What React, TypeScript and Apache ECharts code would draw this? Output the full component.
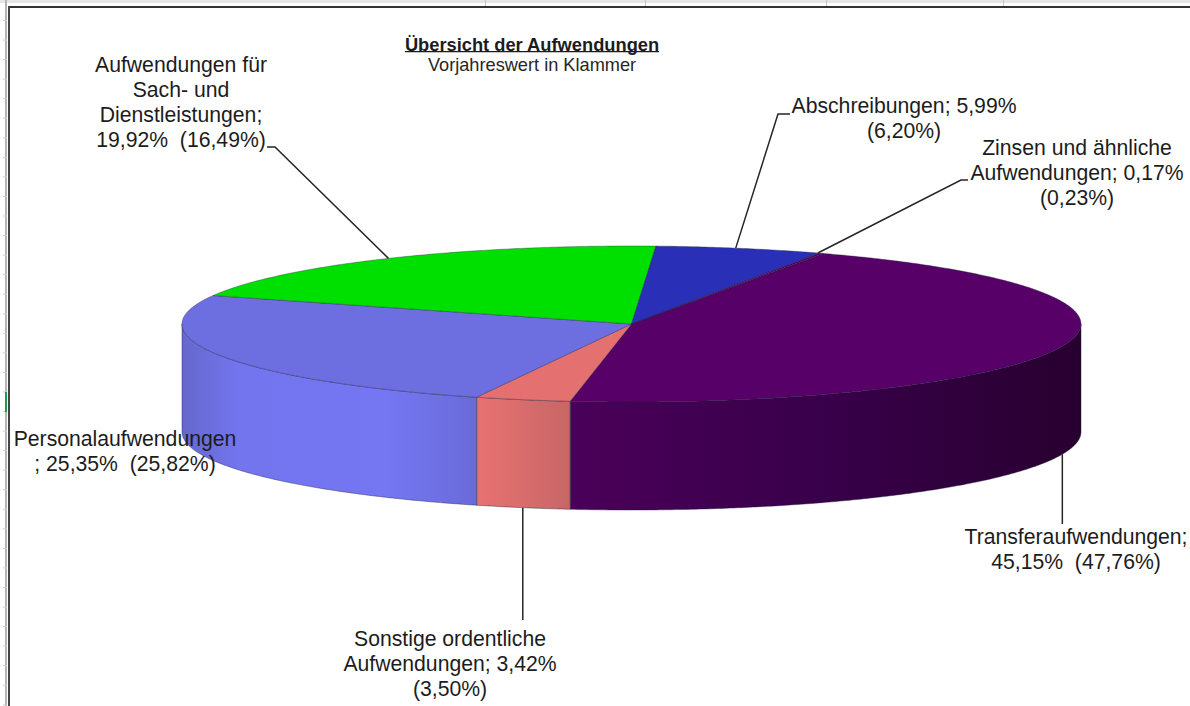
import React, { useEffect, useRef } from "react";
import * as echarts from "echarts";

const titleText = "Übersicht der Aufwendungen";
const subtitleText = "Vorjahreswert in Klammer";

// Clockwise from the start angle, in the reference's drawing order
const categories = [
  "Transferaufwendungen",
  "Sonstige ordentliche Aufwendungen",
  "Personalaufwendungen",
  "Aufwendungen für Sach- und Dienstleistungen",
  "Abschreibungen",
  "Zinsen und ähnliche Aufwendungen",
];
const currentShares = [45.15, 3.42, 25.35, 19.92, 5.99, 0.17];
const priorShares = [47.76, 3.5, 25.82, 16.49, 6.2, 0.23];
const labelTemplates = [
  "Transferaufwendungen;\n{v}  ({p})",
  "Sonstige ordentliche\nAufwendungen; {v}\n({p})",
  "Personalaufwendungen\n; {v}  ({p})",
  "Aufwendungen für\nSach- und\nDienstleistungen;\n{v}  ({p})",
  "Abschreibungen; {v}\n({p})",
  "Zinsen und ähnliche\nAufwendungen; {v}\n({p})",
];

// Styles and layout
const topColors = ["#560068", "#e57070", "#6d6ee0", "#00e000", "#2a2fb7", "#560068"];
const sideStops: [number, string][][] = [
  [[0, "#4a0059"], [0.5, "#38004a"], [1, "#28002f"]],
  [[0, "#e87272"], [0.5, "#d86c6c"], [1, "#c76666"]],
  [[0, "#6668cd"], [0.2, "#7375ef"], [0.7, "#7476f2"], [1, "#6a6bd8"]],
  [[0, "#00e000"], [1, "#00e000"]],
  [[0, "#2a2fb7"], [1, "#2a2fb7"]],
  [[0, "#560068"], [1, "#560068"]],
];
const labelCenters = [
  [1076, 549],
  [450, 663],
  [125, 451],
  [181, 101.5],
  [904, 117.5],
  [1077, 172],
];
// Leader line points after the slice anchor; null x = keep the anchor's x
const leaderRoutes: ([number | null, number][] | null)[] = [
  [[null, 524]],
  [[null, 620]],
  null,
  [[275, 147], [267, 147]],
  [[778, 114], [790, 114]],
  [[961, 180], [968, 180]],
];
const anchorShiftDeg = [0, 0, 0, 0, 0.5, 0.5];
const gridColumns = [485, 645, 826, 1003];
const gutterTicks = Array.from({ length: 36 }, (_, k) => 20 + k * 19.55);
const CX = 631.5;
const CY = 324;
const RX = 449.5;
const RY = 78;
const DEPTH = 108;
const START_ANGLE = 64.7;
const EDGE = "rgba(30,30,60,0.6)";

const total = currentShares.reduce((a, b) => a + b, 0);
const fmt = (n: number) => n.toFixed(2).replace(".", ",") + "%";

const sliceAngles = (index: number) => {
  const before = currentShares.slice(0, index).reduce((a, b) => a + b, 0);
  const from = START_ANGLE - (before / total) * 360;
  const to = from - (currentShares[index] / total) * 360;
  return [from, to];
};
const pointAt = (deg: number, drop = 0): [number, number] => {
  const r = (deg * Math.PI) / 180;
  return [CX + RX * Math.cos(r), CY - RY * Math.sin(r) + drop];
};
const arcPoints = (from: number, to: number, drop = 0) => {
  const n = Math.max(2, Math.ceil(Math.abs(from - to) * 2));
  const pts: [number, number][] = [];
  for (let i = 0; i <= n; i++) pts.push(pointAt(from + ((to - from) * i) / n, drop));
  return pts;
};

const renderSlice = (params: any) => {
  const i = params.dataIndex;
  const [from, to] = sliceAngles(i);
  const children: any[] = [
    {
      type: "polygon",
      shape: { points: [[CX, CY], ...arcPoints(from, to)] },
      style: { fill: topColors[i], stroke: EDGE, lineWidth: 0.6 },
    },
  ];
  const sideFrom = Math.min(from, 0);
  const sideTo = Math.max(to, -180);
  if (sideFrom > sideTo) {
    children.unshift({
      type: "polygon",
      shape: {
        points: [
          ...arcPoints(sideFrom, sideTo),
          ...arcPoints(sideTo, sideFrom, DEPTH),
        ],
      },
      style: {
        fill: {
          type: "linear",
          x: 0,
          y: 0,
          x2: 1,
          y2: 0,
          colorStops: sideStops[i].map(([offset, color]) => ({ offset, color })),
        },
        stroke: EDGE,
        lineWidth: 0.7,
      },
    });
  }
  return { type: "group", children };
};

const renderLabel = (params: any, api: any) => {
  const i = params.dataIndex;
  const [from, to] = sliceAngles(i);
  const mid = (from + to) / 2 + anchorShiftDeg[i];
  const children: any[] = [];
  const route = leaderRoutes[i];
  if (route) {
    const anchor = pointAt(mid, Math.sin((mid * Math.PI) / 180) < 0 ? DEPTH : 0);
    children.push({
      type: "polyline",
      shape: {
        points: [anchor, ...route.map(([x, y]) => [x === null ? anchor[0] : x, y])],
      },
      style: { fill: "none", stroke: "#262626", lineWidth: 1.5 },
    });
  }
  const lines = labelTemplates[i]
    .replace("{v}", fmt(api.value(0)))
    .replace("{p}", fmt(api.value(1)));
  children.push({
    type: "text",
    x: labelCenters[i][0],
    y: labelCenters[i][1],
    style: {
      text: lines,
      fontFamily: "Liberation Sans",
      fontSize: 21.2,
      lineHeight: 25,
      fill: "#1c1c1c",
      align: "center",
      verticalAlign: "middle",
    },
  });
  return { type: "group", children };
};

export default function App() {
  const ref = useRef<HTMLDivElement>(null);
  useEffect(() => {
    document.body.style.margin = "0";
    const chart = echarts.init(ref.current!, null, { renderer: "svg" });
    const data = categories.map((name, i) => ({
      name,
      value: [currentShares[i], priorShares[i]],
    }));
    chart.setOption({
      animation: false,
      backgroundColor: "#ffffff",
      title: {
        text: titleText,
        subtext: subtitleText,
        left: 527,
        top: 30,
        textAlign: "center",
        itemGap: 3,
        textStyle: {
          fontFamily: "Liberation Sans",
          fontSize: 18.3,
          fontWeight: "bold",
          color: "#1c1c1c",
        },
        subtextStyle: {
          fontFamily: "Liberation Sans",
          fontSize: 18.2,
          color: "#262626",
        },
      },
      graphic: [
        { type: "rect", silent: true, shape: { x: 0, y: 0, width: 1190, height: 3 }, style: { fill: "#e6e6e6" } },
        ...gridColumns.map((x) => ({
          type: "rect",
          silent: true,
          shape: { x, y: 0, width: 1, height: 6 },
          style: { fill: "#c8c8c8" },
        })),
        { type: "rect", silent: true, shape: { x: 5, y: 0, width: 2, height: 706 }, style: { fill: "#b4b4b4" } },
        ...gutterTicks.map((y) => ({
          type: "rect",
          silent: true,
          shape: { x: 3, y, width: 4, height: 1 },
          style: { fill: "#cfcfcf" },
        })),
        { type: "rect", silent: true, shape: { x: 5, y: 392, width: 2, height: 20 }, style: { fill: "#1f9a50" } },
        { type: "rect", silent: true, shape: { x: 8, y: 6, width: 1182, height: 2 }, style: { fill: "#333333" } },
        { type: "rect", silent: true, shape: { x: 8, y: 6, width: 2, height: 700 }, style: { fill: "#444444" } },
        { type: "rect", silent: true, shape: { x: 405, y: 51, width: 254, height: 1.2 }, style: { fill: "#1c1c1c" } },
      ],
      series: [
        {
          type: "custom",
          name: "Aufwendungen",
          coordinateSystem: "none",
          renderItem: renderSlice,
          data,
          z: 2,
          silent: true,
        },
        {
          type: "custom",
          name: "Beschriftung",
          coordinateSystem: "none",
          renderItem: renderLabel,
          data,
          z: 5,
          silent: true,
        },
      ],
    });
    return () => chart.dispose();
  }, []);
  return <div ref={ref} style={{ width: 1190, height: 706 }} />;
}
